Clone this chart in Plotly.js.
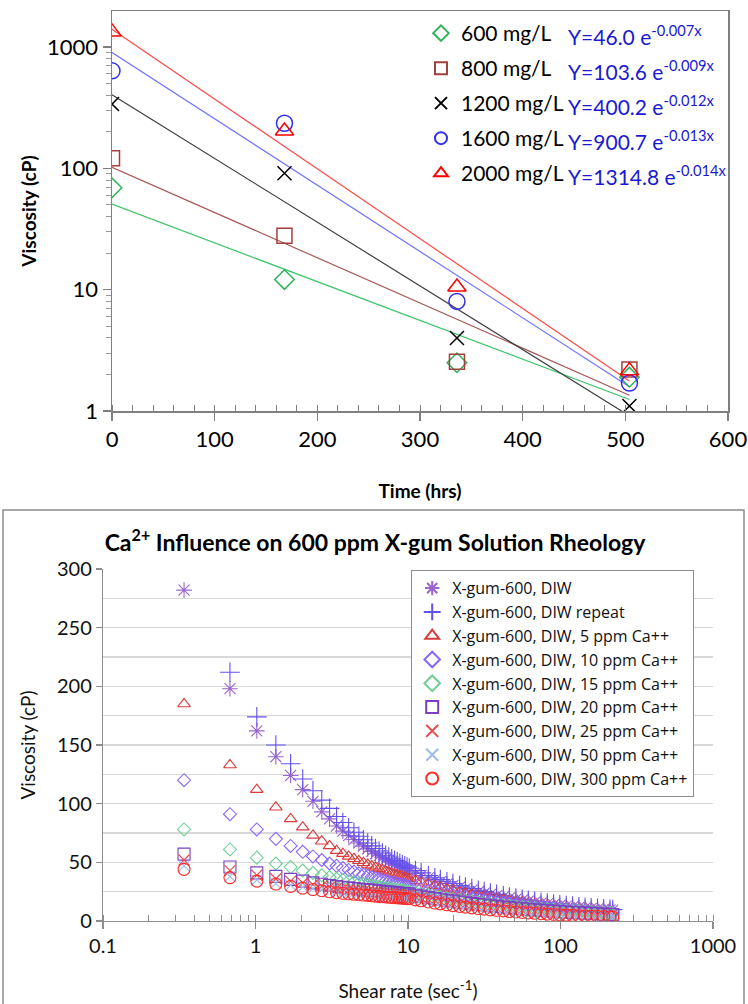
<!DOCTYPE html>
<html>
<head>
<meta charset="utf-8">
<script src="https://cdn.plot.ly/plotly-3.0.1.min.js"></script>
<style>html,body{margin:0;padding:0;background:#fff;}#chart{width:748px;height:1004px;}</style>
</head>
<body>
<div id="chart"></div>
<script>
// ---------- Top chart data ----------
const timeHrs = [0, 168, 336, 504];
const concLabels = ["600 mg/L", "800 mg/L", "1200 mg/L", "1600 mg/L", "2000 mg/L"];
const visc600 = [69, 12.1, 2.5, 1.9];
const visc800 = [121, 27.8, 2.55, 2.2];
const visc1200 = [338, 91, 4.0, 1.1];
const visc1600 = [635, 235, 8.0, 1.7];
const visc2000 = [1330, 203, 10.5, 2.15];
const fitEquations = [
  "Y=46.0 e<sup>-0.007x</sup>",
  "Y=103.6 e<sup>-0.009x</sup>",
  "Y=400.2 e<sup>-0.012x</sup>",
  "Y=900.7 e<sup>-0.013x</sup>",
  "Y=1314.8 e<sup>-0.014x</sup>"
];
const timeTicks = [0, 100, 200, 300, 400, 500, 600];

// ---------- Bottom chart data ----------
const shearRate = [0.34,0.68,1.02,1.36,1.70,2.04,2.38,2.72,3.06,3.40,
  3.74,4.08,4.42,4.76,5.10,5.44,5.78,6.12,6.46,6.80,7.14,7.48,7.82,8.16,8.50,8.84,9.18,9.52,9.86,10.2,
  11.2,12.2,13.6,15.0,16.3,18.0,19.7,21.8,23.8,26.2,28.9,31.6,34.7,38.1,42.2,46.2,51.0,56.1,61.5,67.7,74.5,81.9,90.1,99.0,
  109,120,132,145,159,175,192,211,220];
const seriesNames = ["X-gum-600, DIW","X-gum-600, DIW repeat","X-gum-600, DIW, 5 ppm Ca++",
  "X-gum-600, DIW, 10 ppm Ca++","X-gum-600, DIW, 15 ppm Ca++","X-gum-600, DIW, 20 ppm Ca++",
  "X-gum-600, DIW, 25 ppm Ca++","X-gum-600, DIW, 50 ppm Ca++","X-gum-600, DIW, 300 ppm Ca++"];
const viscDIW = [282,198,162,140,124,112,102,93,87,81,
  76.6,72.8,69.4,66.5,63.8,61.5,59.3,57.4,55.6,53.9,52.4,51.0,49.7,48.5,47.3,46.2,45.2,44.3,43.4,42.5,
  40.5,38.8,36.7,34.9,33.4,31.7,30.3,28.8,27.5,26.2,24.9,23.8,22.7,21.6,20.5,19.6,18.6,17.7,16.9,16.1,15.3,14.6,13.9,13.2,
  12.7,12.1,11.6,11.2,10.7,10.3,9.9,9.5,9.3];
const viscDIWrepeat = [null,212,174,150,134,121,111,103,96,89,
  83.9,79.5,75.6,72.2,69.2,66.5,64.0,61.8,59.7,57.9,56.1,54.5,53.1,51.7,50.4,49.2,48.0,47.0,45.9,45.0,
  42.9,41.0,38.7,36.8,35.3,33.5,32.0,30.3,29.0,27.6,26.2,25.0,23.8,22.7,21.5,20.5,19.5,18.5,17.7,16.8,16.0,15.2,14.5,13.8,
  13.2,12.7,12.2,11.7,11.3,10.8,10.4,10.0,9.8];
const visc5ppm = [185,133,112,97,87,80,73,68,64,60,
  57.4,55.1,53.1,51.3,49.7,48.2,46.9,45.7,44.5,43.5,42.5,41.6,40.7,39.9,39.2,38.5,37.8,37.2,36.6,36.0,
  34.4,33.0,31.3,29.9,28.7,27.4,26.2,24.9,23.9,22.8,21.8,20.9,19.9,19.0,18.1,17.4,16.5,15.8,15.1,14.4,13.8,13.2,12.6,12.0,
  11.5,11.0,10.5,10.1,9.6,9.2,8.8,8.5,8.3];
const visc10ppm = [120,91,78,70,64,59,55,52,49,47,
  45.1,43.5,42.1,40.7,39.6,38.5,37.5,36.6,35.8,35.0,34.3,33.6,33.0,32.4,31.9,31.3,30.8,30.4,29.9,29.5,
  28.3,27.3,26.0,24.9,24.0,23.0,22.1,21.1,20.3,19.4,18.6,17.9,17.2,16.5,15.7,15.1,14.5,13.9,13.3,12.8,12.2,11.7,11.3,10.8,
  10.3,9.9,9.4,9.0,8.6,8.2,7.9,7.6,7.4];
const visc15ppm = [78,61,54,49,46,43,41,39,37.5,36,
  34.9,33.9,33.0,32.2,31.5,30.8,30.2,29.6,29.1,28.6,28.1,27.7,27.3,26.9,26.6,26.2,25.9,25.6,25.3,25.0,
  24.0,23.1,22.1,21.1,20.4,19.5,18.8,18.0,17.3,16.6,15.9,15.3,14.7,14.1,13.5,13.0,12.4,11.9,11.4,11.0,10.5,10.1,9.7,9.3,
  8.9,8.6,8.2,7.9,7.6,7.3,7.0,6.7,6.6];
const visc20ppm = [57,46,41,38,35.5,34,32.5,31.3,30.3,29.4,
  28.8,28.2,27.7,27.3,26.9,26.5,26.1,25.8,25.5,25.2,24.9,24.7,24.4,24.2,24.0,23.7,23.5,23.4,23.2,23.0,
  22.0,21.2,20.1,19.2,18.5,17.7,16.9,16.2,15.5,14.8,14.2,13.6,13.0,12.5,11.9,11.4,10.9,10.4,10.0,9.5,9.1,8.7,8.4,8.0,
  7.7,7.3,7.0,6.7,6.5,6.2,5.9,5.7,5.6];
const visc25ppm = [52,43,39,36,34,32.4,31,29.8,28.8,27.9,
  27.3,26.7,26.2,25.8,25.3,25.0,24.6,24.3,24.0,23.7,23.4,23.1,22.9,22.7,22.5,22.2,22.0,21.9,21.7,21.5,
  20.5,19.6,18.6,17.7,17.0,16.1,15.4,14.6,14.0,13.3,12.7,12.1,11.6,11.0,10.5,10.0,9.5,9.1,8.7,8.3,7.9,7.5,7.1,6.8,
  6.5,6.2,5.9,5.6,5.3,5.1,4.8,4.6,4.5];
const visc50ppm = [47,38,35,32,30.5,29,27.8,26.8,26,25.2,
  24.7,24.3,23.8,23.5,23.1,22.8,22.5,22.3,22.0,21.8,21.6,21.4,21.2,21.0,20.8,20.6,20.5,20.3,20.2,20.0,
  19.1,18.3,17.3,16.5,15.8,15.0,14.4,13.7,13.1,12.5,11.9,11.4,10.8,10.3,9.8,9.4,8.9,8.5,8.1,7.8,7.4,7.0,6.7,6.4,
  6.1,5.8,5.5,5.3,5.1,4.8,4.6,4.4,4.3];
const visc300ppm = [44,37,34,31.5,29.5,28,26.8,25.8,24.9,24.1,
  23.6,23.2,22.8,22.4,22.1,21.8,21.5,21.2,21.0,20.7,20.5,20.3,20.1,19.9,19.8,19.6,19.4,19.3,19.1,19.0,
  18.0,17.2,16.2,15.3,14.6,13.8,13.1,12.4,11.8,11.2,10.6,10.1,9.5,9.1,8.6,8.1,7.7,7.3,6.9,6.6,6.2,5.9,5.6,5.3,
  5.0,4.8,4.5,4.3,4.1,3.9,3.7,3.5,3.4];

// ---------- Styles ----------
const FONT = 'Lato, "Open Sans", "DejaVu Sans", sans-serif';
const LEG_FONT = '"Open Sans", Lato, sans-serif';
const W = 748, H = 1004;
const px = v => v / W;
const py = v => 1 - v / H;

const topSeries = [visc600, visc800, visc1200, visc1600, visc2000];
const topStyle = [
  {sym: 'diamond-open', size: 15, mc: '#2db35a', lc: '#3cc46a'},
  {sym: 'square-open', size: 15, mc: '#a3403e', lc: '#a85a58'},
  {sym: 'x-thin-open', size: 14, mc: '#000000', lc: '#404040'},
  {sym: 'circle-open', size: 16, mc: '#3030f0', lc: '#7070ff'},
  {sym: 'triangle-up-open', size: 16, mc: '#ff0000', lc: '#ff4a4a'}
];

// exponential least-squares fit (as a spreadsheet trendline does)
function expFit(xs, ys) {
  const n = xs.length;
  const ly = ys.map(Math.log);
  const mx = xs.reduce((a, b) => a + b, 0) / n;
  const my = ly.reduce((a, b) => a + b, 0) / n;
  let sxy = 0, sxx = 0;
  for (let i = 0; i < n; i++) { sxy += (xs[i] - mx) * (ly[i] - my); sxx += (xs[i] - mx) ** 2; }
  const b = sxy / sxx;
  const a = Math.exp(my - b * mx);
  return {a, b};
}

const traces = [];
topSeries.forEach((ys, i) => {
  const st = topStyle[i];
  const f = expFit(timeHrs, ys);
  const xs = [Math.min(...timeHrs), Math.max(...timeHrs)];
  traces.push({
    x: xs, y: xs.map(x => f.a * Math.exp(f.b * x)),
    mode: 'lines', line: {color: st.lc, width: 1.2},
    xaxis: 'x', yaxis: 'y', showlegend: false, hoverinfo: 'skip'
  });
});
topSeries.forEach((ys, i) => {
  const st = topStyle[i];
  traces.push({
    x: timeHrs, y: ys, name: concLabels[i], mode: 'markers',
    marker: {symbol: st.sym, size: st.size, color: st.mc, line: {color: st.mc, width: 1.5}},
    xaxis: 'x', yaxis: 'y', legend: 'legend', legendgroup: 'g' + i
  });
});

const botSeries = [viscDIW, viscDIWrepeat, visc5ppm, visc10ppm, visc15ppm, visc20ppm, visc25ppm, visc50ppm, visc300ppm];
const botStyle = [
  {sym: 'asterisk-open', size: 13, c: '#9966cc'},
  {sym: 'cross-thin-open', size: 14, c: '#6150f0'},
  {sym: 'triangle-up-open', size: 11, c: '#d93b3b'},
  {sym: 'diamond-open', size: 10, c: '#8a66ff'},
  {sym: 'diamond-open', size: 10, c: '#6fcf98'},
  {sym: 'square-open', size: 12, c: '#7d3fbf'},
  {sym: 'x-thin-open', size: 11, c: '#e5484a'},
  {sym: 'x-thin-open', size: 11, c: '#9bbcec'},
  {sym: 'circle-open', size: 12, c: '#ff2a2a'}
];
botSeries.forEach((ys, i) => {
  const st = botStyle[i];
  traces.push({
    x: shearRate, y: ys, name: seriesNames[i], mode: 'markers',
    marker: {symbol: st.sym, size: st.size, color: st.c, line: {color: st.c, width: 1.1}},
    xaxis: 'x2', yaxis: 'y2', legend: 'legend2', legendgroup: 'b' + i
  });
});

const annotations = fitEquations.map((t, i) => ({
  text: t, xref: 'paper', yref: 'paper', x: px(566), y: py(35 + 35 * i),
  xanchor: 'left', yanchor: 'middle', showarrow: false,
  font: {family: FONT, size: 21, color: '#1a1ad0'}
}));

const layout = {
  width: W, height: H,
  margin: {l: 0, r: 0, t: 0, b: 0},
  paper_bgcolor: '#ffffff', plot_bgcolor: '#ffffff',
  font: {family: FONT, color: '#000'},
  title: {
    text: '<b>Ca<sup>2+</sup> Influence on 600 ppm X-gum Solution Rheology</b>',
    font: {family: FONT, size: 23, color: '#000'},
    x: px(375), xref: 'container', xanchor: 'center',
    y: py(543), yref: 'container', yanchor: 'middle'
  },
  xaxis: {
    domain: [px(112), px(728)], range: [0, 600], anchor: 'y',
    tickvals: timeTicks, ticks: 'outside', ticklen: 8, tickcolor: '#7f7f7f', tickwidth: 1.5,
    showline: true, linecolor: '#7f7f7f', linewidth: 1.5, mirror: true,
    showgrid: false, zeroline: false,
    minor: {dtick: 20, ticks: 'inside', ticklen: 6, tickcolor: '#7f7f7f', tickwidth: 1, showgrid: false},
    tickfont: {family: FONT, size: 22, color: '#000'},
    title: {text: '<b>Time (hrs)</b>', font: {family: FONT, size: 19, color: '#000'}, standoff: 34}
  },
  yaxis: {
    domain: [py(411), py(11)], type: 'log', range: [0, 3.296], anchor: 'x',
    dtick: 1, exponentformat: 'none', ticks: 'outside', ticklen: 8, tickcolor: '#7f7f7f', tickwidth: 1.5,
    showline: true, linecolor: '#7f7f7f', linewidth: 1.5, mirror: true,
    showgrid: false, zeroline: false,
    minor: {dtick: 'D1', ticks: 'outside', ticklen: 5, tickcolor: '#9a9a9a', tickwidth: 1, showgrid: false},
    tickfont: {family: FONT, size: 22, color: '#000'},
    title: {text: '<b>Viscosity (cP)</b>', font: {family: FONT, size: 19, color: '#000'}, standoff: 5}
  },
  xaxis2: {
    domain: [px(103), px(713)], type: 'log', range: [-1, 3], anchor: 'y2',
    dtick: 1, exponentformat: 'none', ticks: 'outside', ticklen: 7, tickcolor: '#8c8c8c', tickwidth: 1.2,
    showline: true, linecolor: '#8c8c8c', linewidth: 1.2,
    showgrid: false, zeroline: false,
    minor: {dtick: 'D1', ticks: 'inside', ticklen: 6, tickcolor: '#8c8c8c', tickwidth: 1, showgrid: false},
    tickfont: {family: FONT, size: 20, color: '#111'},
    title: {text: 'Shear rate (sec<sup>-1</sup>)', font: {family: FONT, size: 19, color: '#111'}, standoff: 28}
  },
  yaxis2: {
    domain: [py(921), py(569)], range: [0, 300], anchor: 'x2',
    dtick: 50, ticks: 'outside', ticklen: 6, tickcolor: '#8c8c8c', tickwidth: 1.2,
    showline: true, linecolor: '#8c8c8c', linewidth: 1.2,
    showgrid: true, gridcolor: '#d9d9d9', gridwidth: 1.3, zeroline: false,
    minor: {dtick: 25, showgrid: true, gridcolor: '#d9d9d9', gridwidth: 1.3, ticks: ''},
    tickfont: {family: FONT, size: 20, color: '#111'},
    title: {text: 'Viscosity (cP)', font: {family: FONT, size: 19, color: '#111'}, standoff: 16}
  },
  legend: {
    x: px(421), y: py(13), xanchor: 'left', yanchor: 'top',
    bgcolor: 'rgba(255,255,255,0)', borderwidth: 0,
    font: {family: FONT, size: 21, color: '#000'},
    itemsizing: 'constant', tracegroupgap: 4.7, itemwidth: 30
  },
  legend2: {
    x: px(411), y: py(570), xanchor: 'left', yanchor: 'top',
    bgcolor: '#ffffff', bordercolor: '#8c8c8c', borderwidth: 1.2,
    font: {family: LEG_FONT, size: 16, color: '#111'},
    itemsizing: 'constant', tracegroupgap: 0, itemwidth: 30
  },
  annotations: annotations,
  shapes: [{
    type: 'rect', xref: 'paper', yref: 'paper',
    x0: px(3), x1: px(744), y0: -0.01, y1: py(510),
    line: {color: '#8c8c8c', width: 1.5}, fillcolor: 'rgba(0,0,0,0)', layer: 'below'
  }],
  showlegend: true
};

Plotly.newPlot('chart', traces, layout, {displayModeBar: false, staticPlot: true});
</script>
</body>
</html>
